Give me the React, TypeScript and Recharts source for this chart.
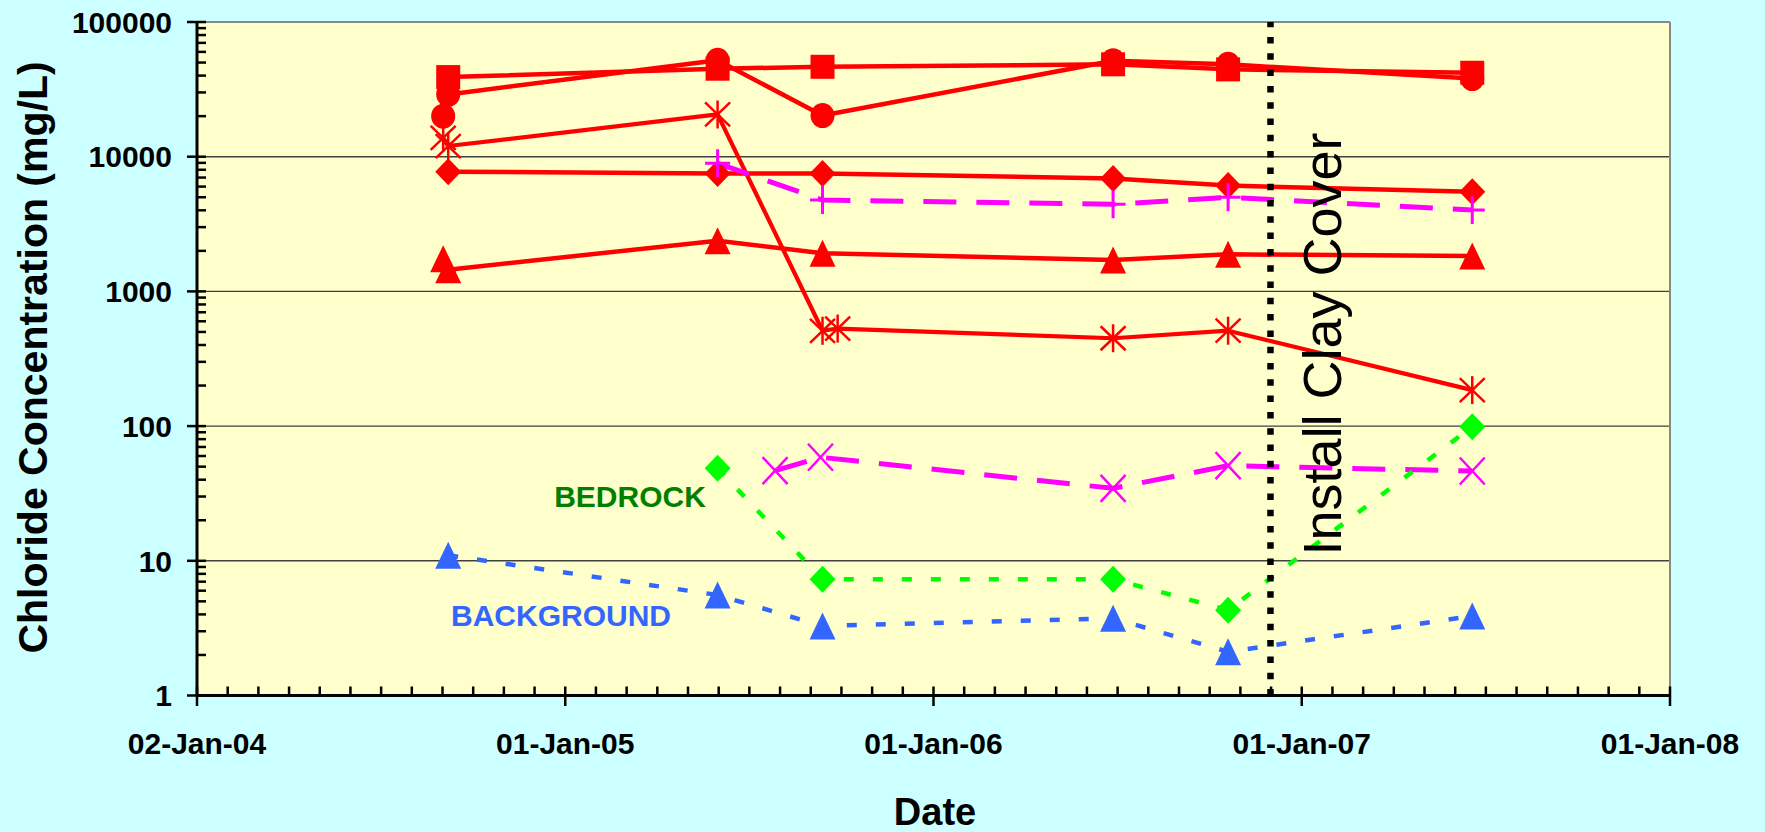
import React from 'react';
import { LineChart, Line, XAxis, YAxis, CartesianGrid, ReferenceLine } from 'recharts';

const FONT = '"Liberation Sans", Arial, Helvetica, sans-serif';

// ---- axis definitions ----
const majorTickDates = ['2004-01-02', '2005-01-01', '2006-01-01', '2007-01-01', '2008-01-01'];
const minorPerMajor = 12;
const yTickValues = [1, 10, 100, 1000, 10000, 100000];
const installDate = '2006-12-01';

// ---- series (date, mg/L) ----
type P = [string, number];
const redTriangle: P[] = [
  ['2004-09-02', 1750], ['2004-09-07', 1450], ['2005-06-01', 2380], ['2005-09-13', 1920],
  ['2006-06-28', 1710], ['2006-10-20', 1885], ['2007-06-19', 1830],
];
const redDiamond: P[] = [
  ['2004-09-07', 7740], ['2005-06-01', 7500], ['2005-09-13', 7500], ['2006-06-28', 6900],
  ['2006-10-20', 6100], ['2007-06-19', 5500],
];
const redAsterisk: P[] = [
  ['2004-09-02', 13800], ['2004-09-07', 12000], ['2005-06-01', 20600], ['2005-09-13', 510],
  ['2005-09-28', 530], ['2006-06-28', 449], ['2006-10-20', 511], ['2007-06-19', 185],
];
const redCircle: P[] = [
  ['2004-09-02', 20000], ['2004-09-07', 29000], ['2005-06-01', 52000], ['2005-09-13', 20200],
  ['2006-06-28', 51500], ['2006-10-20', 48500], ['2007-06-19', 38000],
];
const redSquare: P[] = [
  ['2004-09-07', 39000], ['2005-06-01', 45000], ['2005-09-13', 46500], ['2006-06-28', 48500],
  ['2006-10-20', 44500], ['2007-06-19', 42000],
];
const magentaPlus: P[] = [
  ['2005-06-01', 8930], ['2005-09-13', 4770], ['2006-06-28', 4430], ['2006-10-20', 5000],
  ['2007-06-19', 4020],
];
const magentaX: P[] = [
  ['2005-07-28', 46.7], ['2005-09-11', 58.7], ['2006-06-28', 34.5], ['2006-10-20', 50.8],
  ['2007-06-19', 46.4],
];
const bedrock: P[] = [
  ['2005-06-01', 48.6], ['2005-09-13', 7.3], ['2006-06-28', 7.3], ['2006-10-20', 4.3],
  ['2007-06-19', 99],
];
const background: P[] = [
  ['2004-09-07', 11.0], ['2005-06-01', 5.57], ['2005-09-13', 3.28], ['2006-06-28', 3.74],
  ['2006-10-20', 2.11], ['2007-06-19', 3.89],
];

// ---- helpers ----
const ts = (d: string) => Date.parse(d + 'T00:00:00Z');
const toData = (arr: P[]) => arr.map(([d, v]) => ({ t: ts(d), v }));
const MONTHS = ['Jan', 'Feb', 'Mar', 'Apr', 'May', 'Jun', 'Jul', 'Aug', 'Sep', 'Oct', 'Nov', 'Dec'];
const pad = (n: number) => (n < 10 ? '0' + n : '' + n);
const fmtDate = (t: number) => {
  const d = new Date(t);
  return `${pad(d.getUTCDate())}-${MONTHS[d.getUTCMonth()]}-${String(d.getUTCFullYear()).slice(2)}`;
};

const majorTs = majorTickDates.map(ts);
const xTicks: number[] = [];
majorTs.forEach((m, i) => {
  xTicks.push(m);
  if (i < majorTs.length - 1) {
    const step = (majorTs[i + 1] - m) / minorPerMajor;
    for (let k = 1; k < minorPerMajor; k++) xTicks.push(m + step * k);
  }
});
const yTicks: number[] = [];
yTickValues.forEach((v, i) => {
  yTicks.push(v);
  if (i < yTickValues.length - 1) for (let k = 2; k <= 9; k++) yTicks.push(v * k);
});

const XTick = (props: any) => {
  const { x, y, payload } = props;
  const major = majorTs.includes(payload.value);
  return (
    <g>
      <line x1={x} x2={x} y1={y - 9} y2={major ? y + 10.5 : y} stroke="#000" strokeWidth={2.5} />
      {major && (
        <text x={x} y={y + 58} textAnchor="middle" fontSize={30} fontWeight="bold" fontFamily={FONT} fill="#000">
          {fmtDate(payload.value)}
        </text>
      )}
    </g>
  );
};

const YTick = (props: any) => {
  const { x, y, payload } = props;
  const v = payload.value;
  const major = yTickValues.includes(v);
  return (
    <g>
      <line x1={major ? x - 10 : x} x2={x + 9} y1={y} y2={y} stroke="#000" strokeWidth={2.5} />
      {major && (
        <text x={x - 25} y={y} dy={10.7} textAnchor="end" fontSize={30} fontWeight="bold" fontFamily={FONT} fill="#000">
          {v}
        </text>
      )}
    </g>
  );
};

const mkDot = (shape: string, color: string) => (props: any) => {
  const { cx, cy, index } = props;
  if (cx == null || cy == null) return <g key={index} />;
  switch (shape) {
    case 'square':
      return <rect key={index} x={cx - 12} y={cy - 12} width={24} height={24} fill={color} />;
    case 'circle':
      return <ellipse key={index} cx={cx} cy={cy} rx={12} ry={12.5} fill={color} />;
    case 'diamond':
      return (
        <polygon key={index} points={`${cx},${cy - 13.5} ${cx + 13},${cy} ${cx},${cy + 13.5} ${cx - 13},${cy}`} fill={color} />
      );
    case 'triangle':
      return (
        <polygon key={index} points={`${cx},${cy - 13.5} ${cx + 13},${cy + 13.5} ${cx - 13},${cy + 13.5}`} fill={color} />
      );
    case 'asterisk':
      return (
        <g key={index} stroke={color} strokeWidth={2.5}>
          <line x1={cx} y1={cy - 14} x2={cx} y2={cy + 14} />
          <line x1={cx - 12.5} y1={cy - 12} x2={cx + 12.5} y2={cy + 12} />
          <line x1={cx - 12.5} y1={cy + 12} x2={cx + 12.5} y2={cy - 12} />
        </g>
      );
    case 'plus':
      return (
        <g key={index} stroke={color} strokeWidth={3}>
          <line x1={cx} y1={cy - 14} x2={cx} y2={cy + 14} />
          <line x1={cx - 12.5} y1={cy} x2={cx + 12.5} y2={cy} />
        </g>
      );
    case 'x':
    default:
      return (
        <g key={index} stroke={color} strokeWidth={2.5}>
          <line x1={cx - 12.5} y1={cy - 13.5} x2={cx + 12.5} y2={cy + 13.5} />
          <line x1={cx - 12.5} y1={cy + 13.5} x2={cx + 12.5} y2={cy - 13.5} />
        </g>
      );
  }
};

const RED = '#FF0000';
const MAGENTA = '#FF00FF';
const GREEN = '#00FF00';
const BLUE = '#3366FF';

const seriesDefs = [
  { name: 'redTriangle', data: redTriangle, color: RED, shape: 'triangle', width: 4.5, dash: undefined },
  { name: 'redDiamond', data: redDiamond, color: RED, shape: 'diamond', width: 4.5, dash: undefined },
  { name: 'redAsterisk', data: redAsterisk, color: RED, shape: 'asterisk', width: 4.2, dash: undefined },
  { name: 'redCircle', data: redCircle, color: RED, shape: 'circle', width: 4.5, dash: undefined },
  { name: 'redSquare', data: redSquare, color: RED, shape: 'square', width: 4.5, dash: undefined },
  { name: 'magentaPlus', data: magentaPlus, color: MAGENTA, shape: 'plus', width: 5, dash: '33 20' },
  { name: 'magentaX', data: magentaX, color: MAGENTA, shape: 'x', width: 5, dash: '33 20' },
  { name: 'bedrock', data: bedrock, color: GREEN, shape: 'diamond', width: 4.5, dash: '10 19' },
  { name: 'background', data: background, color: BLUE, shape: 'triangle', width: 4.5, dash: '10 19' },
];

export default function App() {
  const xMin = majorTs[0];
  const xMax = majorTs[majorTs.length - 1];
  return (
    <div
      style={{
        position: 'absolute',
        left: 0,
        top: 0,
        width: 1765,
        height: 832,
        background: '#CCFFFF',
        overflow: 'hidden',
        fontFamily: FONT,
      }}
    >
      <LineChart width={1765} height={832} margin={{ top: 22, right: 95, bottom: 36.5, left: 97 }}>
        <CartesianGrid
          fill="#FFFFCC"
          fillOpacity={1}
          vertical={false}
          horizontalValues={[10, 100, 1000, 10000]}
          stroke="#404040"
          strokeWidth={1.4}
          strokeDasharray=""
        />
        <XAxis
          type="number"
          dataKey="t"
          domain={[xMin, xMax]}
          ticks={xTicks}
          interval={0}
          tick={XTick}
          tickLine={false}
          tickSize={0}
          tickMargin={0}
          height={100}
          axisLine={{ stroke: '#000', strokeWidth: 3 }}
          allowDataOverflow
        />
        <YAxis
          type="number"
          scale="log"
          domain={[1, 100000]}
          ticks={yTicks}
          interval={0}
          tick={YTick}
          tickLine={false}
          tickSize={0}
          tickMargin={0}
          width={100}
          axisLine={{ stroke: '#000', strokeWidth: 3 }}
          allowDataOverflow
        />
        <ReferenceLine y={100000} stroke="#888888" strokeWidth={2} ifOverflow="visible" />
        <ReferenceLine x={xMax} stroke="#888888" strokeWidth={2} ifOverflow="visible" />
        {seriesDefs.map((s) => (
          <Line
            key={s.name}
            data={toData(s.data)}
            dataKey="v"
            type="linear"
            stroke={s.color}
            strokeWidth={s.width}
            strokeDasharray={s.dash}
            strokeLinejoin="round"
            dot={mkDot(s.shape, s.color)}
            activeDot={false}
            isAnimationActive={false}
          />
        ))}
        <ReferenceLine
          x={ts(installDate)}
          stroke="#000"
          strokeWidth={6.5}
          strokeDasharray="6.5 9.8"
          ifOverflow="visible"
        />
      </LineChart>
      <svg
        width={1765}
        height={832}
        style={{ position: 'absolute', left: 0, top: 0, pointerEvents: 'none' }}
      >
        <text
          transform="translate(46.5,357.5) rotate(-90)"
          textAnchor="middle"
          fontSize={41}
          fontWeight="bold"
          fontFamily={FONT}
          fill="#000"
        >
          Chloride Concentration (mg/L)
        </text>
        <text x={935} y={825} textAnchor="middle" fontSize={38} fontWeight="bold" fontFamily={FONT} fill="#000">
          Date
        </text>
        <text x={630} y={507} textAnchor="middle" fontSize={30} fontWeight="bold" fontFamily={FONT} fill="#008000">
          BEDROCK
        </text>
        <text x={561} y={626} textAnchor="middle" fontSize={30} fontWeight="bold" fontFamily={FONT} fill="#3366FF">
          BACKGROUND
        </text>
        <text
          transform="translate(1341,344) rotate(-90)"
          textAnchor="middle"
          fontSize={54}
          fontFamily={FONT}
          fill="#000"
        >
          Install Clay Cover
        </text>
      </svg>
    </div>
  );
}
